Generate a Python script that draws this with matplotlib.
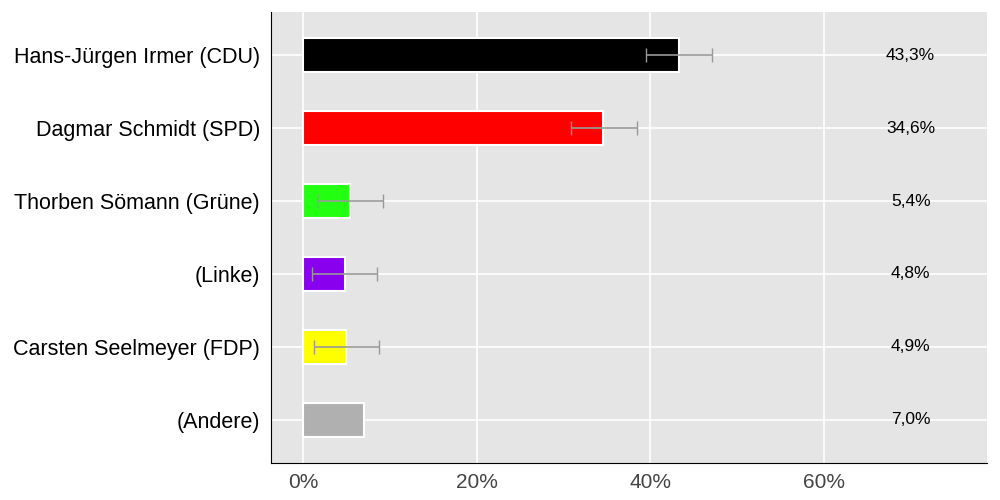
import matplotlib
matplotlib.use("Agg")
import matplotlib.pyplot as plt

candidates = ["Hans-Jürgen Irmer (CDU)", "Dagmar Schmidt (SPD)", "Thorben Sömann (Grüne)",
              "(Linke)", "Carsten Seelmeyer (FDP)", "(Andere)"]
values = [43.3, 34.6, 5.4, 4.8, 4.9, 7.0]
err_low = [39.5, 30.9, 1.6, 1.0, 1.2, None]
err_high = [47.1, 38.5, 9.2, 8.5, 8.8, None]
labels = ["43,3%", "34,6%", "5,4%", "4,8%", "4,9%", "7,0%"]
colors = ["#000000", "#ff0000", "#22ff11", "#8800ee", "#ffff00", "#b0b0b0"]

plt.rcParams['font.family'] = ['Liberation Sans', 'DejaVu Sans']
fig = plt.figure(figsize=(10, 5), dpi=100)
ax = fig.add_axes([0.271, 0.074, 0.716, 0.902])
ax.set_facecolor("#e5e5e5")
y = list(range(len(candidates)))
ax.barh(y, values, height=0.47, color=colors, edgecolor="white", linewidth=1.5, zorder=3)
for i in y:
    if err_low[i] is not None:
        c = (err_low[i] + err_high[i]) / 2
        ax.errorbar(c, i, xerr=(err_high[i] - err_low[i]) / 2, color="#999999",
                    capsize=5, lw=1.2, zorder=4)
    ax.text(70, i, labels[i], ha="center", va="center", fontsize=12.5, zorder=5)
ax.set_yticks(y)
ax.set_yticklabels(candidates, fontsize=15.5)
ax.set_ylim(5.59, -0.59)
ax.set_xlim(-3.7, 78.8)
ax.set_xticks([0, 20, 40, 60])
ax.set_xticklabels(["0%", "20%", "40%", "60%"], fontsize=15, color="#444444")
ax.grid(True, color="white", lw=1.2, zorder=0)
ax.set_axisbelow(True)
for s in ["top", "right"]:
    ax.spines[s].set_visible(False)
ax.tick_params(axis="y", length=0, pad=8)
ax.tick_params(axis="x", length=0, pad=7)
fig.savefig("out.png")
